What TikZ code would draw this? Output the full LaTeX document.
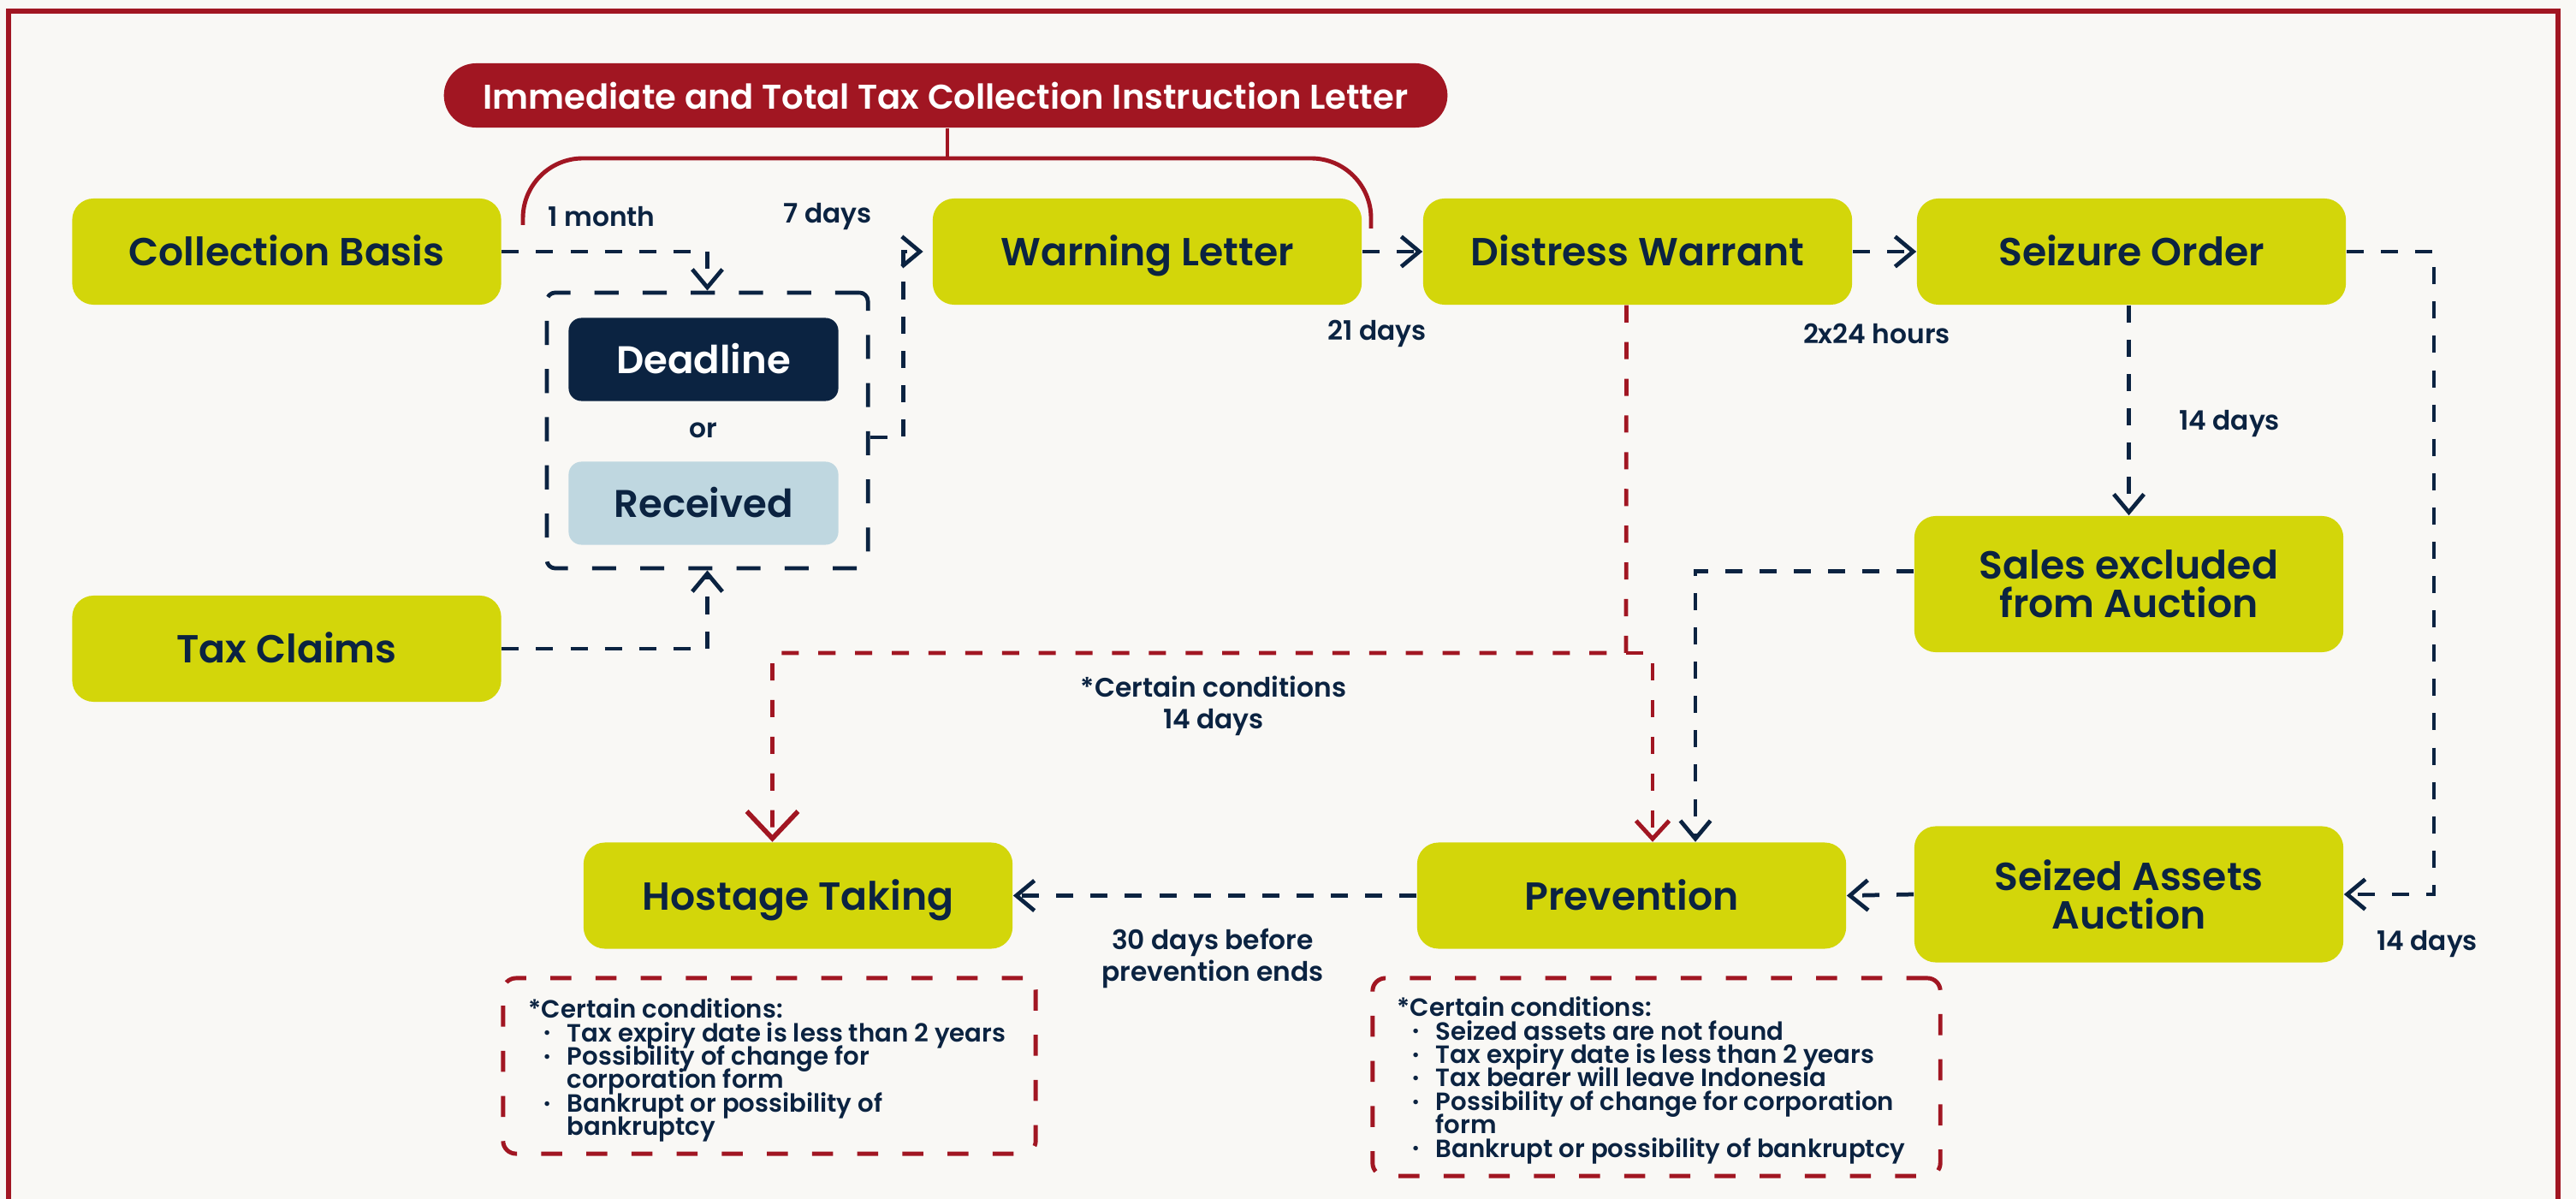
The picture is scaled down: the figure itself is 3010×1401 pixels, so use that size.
\documentclass[tikz,border=0pt]{standalone}
\usepackage{fontspec}
\setmainfont{Poppins}[UprightFont=* Medium, BoldFont=* SemiBold]
\usetikzlibrary{arrows.meta,calc}
\definecolor{navy}{HTML}{0B2341}
\definecolor{lime}{HTML}{D3D60A}
\definecolor{dred}{HTML}{A11622}
\definecolor{lblue}{HTML}{BFD7E0}
\definecolor{bgc}{HTML}{F9F8F5}
\tikzset{
  greenbase/.style={fill=lime, rounded corners=0.25cm, minimum width=5.01cm, minimum height=1.24cm, inner sep=0pt, text=navy, align=center, font=\fontsize{13}{12.8}\selectfont\bfseries},
  greenbox/.style={greenbase, text height=9.4pt, text depth=0pt},
  greenbox2/.style={greenbase},
  smallbox/.style={rounded corners=0.15cm, minimum width=3.15cm, minimum height=0.97cm, inner sep=0pt, text height=9.2pt, text depth=0pt, font=\fontsize{12.8}{14}\selectfont\bfseries},
  navyline/.style={draw=navy, line width=1.35pt, dash pattern=on 5.7pt off 5.7pt},
  redline/.style={draw=dred, line width=1.35pt, dash pattern=on 5.7pt off 6.5pt},
  navytip/.style={-{Straight Barb[length=6pt, width=10pt, line width=1.35pt]}},
  redtip/.style={-{Straight Barb[length=6pt, width=11pt, line width=1.4pt]}},
  bigredtip/.style={-{Straight Barb[length=9pt, width=17pt, line width=1.6pt]}},
  lbl/.style={text=navy, font=\fontsize{8.9}{10.5}\selectfont\bfseries, align=center, inner sep=0pt},
  condbox/.style={draw=dred, line width=1.4pt, dash pattern=on 7pt off 8pt, rounded corners=0.15cm, inner sep=0pt},
  condtext/.style={text=navy, inner sep=0pt, anchor=north west}
}
\newcommand{\bul}{\hspace*{0.17cm}\makebox[0.28cm][l]{\raisebox{0.2ex}{\fontsize{5.5}{5}\selectfont\textbullet}}}
\newcommand{\condfont}{\fontsize{8.3}{7.8}\selectfont\bfseries\lineskiplimit=-20pt\parindent=0pt}
\begin{document}
\begin{tikzpicture}[x=0.01cm, y=-0.01cm]
\useasboundingbox (0,0) rectangle (3010,1401);
\fill[bgc] (0,0) rectangle (3010,1401);
\draw[dred, line width=1.6pt] (10,1405) -- (10,13) -- (2989,13) -- (2989,1405);

% top pill and bracket
\node[fill=dred, rounded corners=0.375cm, minimum width=11.72cm, minimum height=0.75cm, inner sep=0pt, text=white, font=\fontsize{11.4}{13}\selectfont\bfseries] (pill) at (1105,111.5) {Immediate and Total Tax Collection Instruction Letter};
\coordinate (bl) at (611,263);
\coordinate (br) at (1602,267);
\draw[dred, line width=1.4pt, rounded corners=0.7cm] (bl) -- (611,185) -- (1602,185) -- (br);
\draw[dred, line width=1.4pt] (pill.south -| 1107,0) -- (1107,185);

% boxes
\node[greenbox] (cb) at (335,294) {Collection Basis};
\node[greenbox] (tc) at (335,758) {Tax Claims};
\node[greenbox] (wl) at (1340.5,294) {Warning Letter};
\node[greenbox] (dw) at (1913.5,294) {Distress Warrant};
\node[greenbox] (so) at (2490.5,294) {Seizure Order};
\node[greenbox2, minimum height=1.59cm] (sea) at (2487.5,682.5) {Sales excluded\\from Auction};
\node[greenbox2, minimum height=1.59cm] (saa) at (2487.5,1045) {Seized Assets\\Auction};
\node[greenbox] (prev) at (1906.5,1046.5) {Prevention};
\node[greenbox] (ht) at (932.5,1046.5) {Hostage Taking};

\node[smallbox, fill=navy, text=white] (dl) at (822,420) {Deadline};
\node[smallbox, fill=lblue, text=navy] (rc) at (822,588) {Received};
\node[lbl] (or) at (822,503) {or};
\node[draw=navy, line width=1.35pt, dash pattern=on 8pt off 8pt, rounded corners=0.1cm, minimum width=3.75cm, minimum height=3.22cm, inner sep=0pt] (grp) at (826.5,503) {};

% navy connectors
\draw[navyline, navytip] (cb.east) -| (grp.north);
\draw[navyline, navytip] (tc.east) -| (grp.south);
\draw[navyline, navytip, shorten >=3pt] ($(grp.east)+(0,8)$) -- ++(39,0) |- (wl.west);
\draw[navyline, navytip] (wl.east) -- (dw.west);
\draw[navyline, navytip] (dw.east) -- (so.west);
\draw[navyline, navytip] (sea.north |- so.south) -- (sea.north);
\draw[navyline, navytip] (so.east) -- ++(102,0) |- (saa.east);
\draw[navyline, navytip] (saa.west) -- (prev.east);
\draw[navyline, navytip] ($(sea.west)+(0,-15)$) -| ($(prev.north)+(74.5,0)$);
\draw[navyline, navytip] (prev.west) -- (ht.east);

% red connectors
\coordinate (rj) at (1900,763);
\draw[redline, bigredtip] ($(dw.south)+(-13,0)$) -- (rj) -| ($(ht.north)+(-30,0)$);
\draw[redline, redtip] (rj) -| ($(prev.north)+(24.5,0)$);

% labels
\node[lbl] (l1) at (703,253) {1 month};
\node[lbl] (l2) at (967,253) {7 days};
\node[lbl] (l3) at (1609,390) {21 days};
\node[lbl] (l4) at (2193,390) {2x24 hours};
\node[lbl] (l5) at (2605,495) {14 days};
\node[lbl] (l6) at (2836,1103) {14 days};
\node[lbl] (l7) at (1418,825) {*Certain conditions\\14 days};
\node[lbl] (l8) at (1417,1120) {30 days before\\prevention ends};

% condition boxes
\node[condbox, minimum width=6.22cm, minimum height=2.05cm] (c1) at (899,1245.5) {};
\node[condtext] (c1t) at (617,1166) {\begin{minipage}[t]{5.8cm}\condfont
*Certain conditions:\par
\hangindent=0.45cm\bul Tax expiry date is less than 2 years\par
\hangindent=0.45cm\bul Possibility of change for\\corporation form\par
\hangindent=0.45cm\bul Bankrupt or possibility of\\bankruptcy\par
\end{minipage}};
\node[condbox, minimum width=6.63cm, minimum height=2.31cm] (c2) at (1935.5,1258.5) {};
\node[condtext] (c2t) at (1632,1164) {\begin{minipage}[t]{6.2cm}\condfont
*Certain conditions:\par
\hangindent=0.45cm\bul Seized assets are not found\par
\hangindent=0.45cm\bul Tax expiry date is less than 2 years\par
\hangindent=0.45cm\bul Tax bearer will leave Indonesia\par
\hangindent=0.45cm\bul Possibility of change for corporation\\form\par
\hangindent=0.45cm\bul Bankrupt or possibility of bankruptcy\par
\end{minipage}};
\end{tikzpicture}
\end{document}
